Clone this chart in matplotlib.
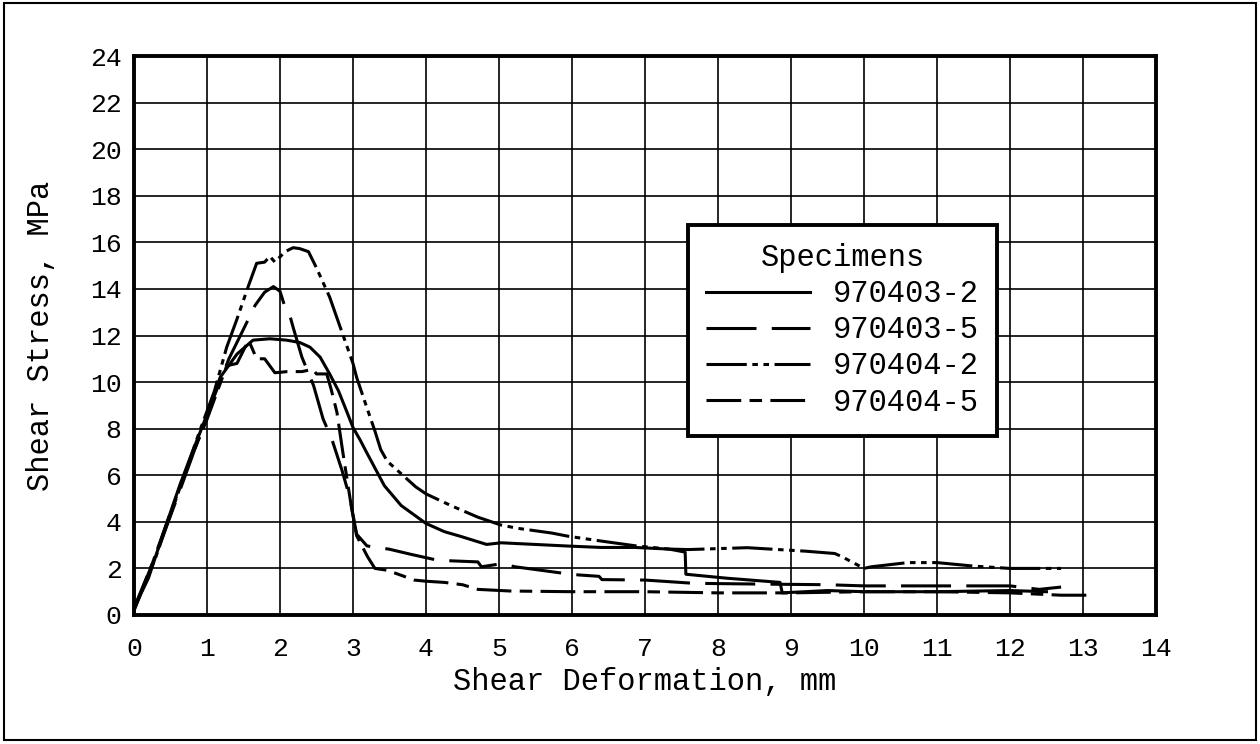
import matplotlib
matplotlib.use("Agg")
import matplotlib.pyplot as plt
from matplotlib.patches import Rectangle

# shear stress vs deformation, four specimens
plt.rcParams["font.family"] = ["Liberation Mono", "DejaVu Sans Mono"]
plt.rcParams["lines.scale_dashes"] = False

x_ticks = list(range(0, 15))
y_ticks = list(range(0, 25, 2))
names = ["970403-2", "970403-5", "970404-2", "970404-5"]

# 970403-2 (solid)
s1_x = [0.0, 0.2, 0.4, 0.63, 0.8, 0.95, 1.18, 1.41, 1.63, 1.86, 2.09, 2.27, 2.41,
        2.55, 2.68, 2.8, 2.91, 3.0, 3.1, 3.2, 3.43, 3.66, 4.0, 4.25, 4.48, 4.83,
        5.03, 5.49, 5.95, 6.4, 6.86, 7.33, 7.55, 7.56, 8.12, 8.85, 8.88, 9.5,
        10.0, 11.0, 12.0, 12.5]
s1_y = [0.3, 1.6, 3.5, 5.6, 7.0, 8.2, 10.2, 11.2, 11.8, 11.86, 11.8, 11.7, 11.5,
        11.07, 10.35, 9.63, 8.77, 8.05, 7.5, 6.9, 5.55, 4.7, 3.93, 3.58, 3.37, 3.03,
        3.1, 3.03, 2.96, 2.9, 2.9, 2.83, 2.7, 1.75, 1.58, 1.4, 0.95, 1.05,
        1.0, 1.0, 1.05, 1.0]

# 970403-5 (long dash)
s2_x = [0.0, 0.3, 0.6, 0.9, 1.1, 1.3, 1.52, 1.66, 1.79, 1.91, 2.0, 2.07, 2.14,
        2.18, 2.3, 2.46, 2.59, 2.71, 2.85, 2.96, 3.0, 3.05, 3.19, 3.3, 3.49, 3.8,
        4.16, 4.39, 4.71, 4.76, 5.03, 5.22, 5.86, 6.09, 6.37, 6.41, 7.0, 7.67,
        8.5, 9.5, 10.0, 11.0, 12.0, 12.4, 12.7]
s2_y = [0.2, 2.6, 5.1, 7.7, 9.4, 11.0, 12.4, 13.3, 13.86, 14.1, 13.9, 13.2, 12.8,
        12.35, 11.07, 9.85, 8.42, 7.55, 6.2, 5.0, 4.3, 3.47, 2.97, 2.9, 2.83, 2.6,
        2.35, 2.32, 2.28, 2.07, 2.2, 2.07, 1.8, 1.72, 1.66, 1.52, 1.5, 1.36,
        1.33, 1.3, 1.25, 1.25, 1.25, 1.1, 1.2]

# 970404-2 (dash dot dot)
s3_x = [0.0, 0.3, 0.6, 0.9, 1.1, 1.27, 1.41, 1.52, 1.57, 1.68, 1.79, 1.86, 1.93,
        2.07, 2.18, 2.27, 2.39, 2.5, 2.68, 2.82, 2.91, 3.0, 3.05, 3.19, 3.3, 3.38,
        3.47, 3.86, 4.0, 4.34, 4.71, 5.03, 5.26, 5.72, 5.95, 6.41, 6.87, 7.33,
        7.6, 8.4, 9.2, 9.6, 9.7, 10.0, 10.1, 10.6, 11.0, 11.5, 12.0, 12.7]
s3_y = [0.2, 2.5, 5.2, 7.9, 9.6, 11.5, 12.7, 13.7, 14.15, 15.1, 15.15, 15.4, 15.15,
        15.6, 15.77, 15.73, 15.6, 14.9, 13.65, 12.4, 11.6, 10.8, 10.2, 8.9, 7.9, 7.1,
        6.6, 5.5, 5.2, 4.7, 4.2, 3.86, 3.72, 3.52, 3.38, 3.17, 2.97, 2.83,
        2.81, 2.89, 2.74, 2.64, 2.5, 2.0, 2.07, 2.25, 2.25, 2.1, 2.0, 2.0]

# 970404-5 (dash dot)
s4_x = [0.0, 0.25, 0.5, 0.75, 1.0, 1.2, 1.27, 1.41, 1.57, 1.68, 1.79, 1.93, 2.1,
        2.3, 2.45, 2.5, 2.64, 2.7, 2.78, 2.86, 2.98, 3.05, 3.2, 3.3, 3.47, 3.84,
        4.0, 4.25, 4.5, 4.71, 5.15, 6.0, 7.0, 8.0, 9.0, 10.0, 11.0, 12.0, 12.7, 13.15]
s4_y = [0.3, 2.2, 4.4, 6.5, 8.4, 10.1, 10.7, 10.8, 11.8, 11.0, 11.0, 10.4, 10.45,
        10.45, 10.55, 10.35, 10.35, 9.7, 8.7, 7.0, 4.6, 3.4, 2.5, 2.0, 1.92, 1.5,
        1.45, 1.4, 1.3, 1.1, 1.03, 1.0, 1.0, 0.95, 0.95, 1.0, 1.0, 0.95, 0.85, 0.85]

series_x = [s1_x, s2_x, s3_x, s4_x]
series_y = [s1_y, s2_y, s3_y, s4_y]
# dash patterns in points
styles = ["-", (0, (36, 11)), (0, (29, 4, 4, 4, 4, 4)), (0, (25, 6, 9, 6))]

fig = plt.figure(figsize=(12.6, 7.44), dpi=100)
ax = fig.add_axes([134 / 1260, 1 - 615 / 744, 1022 / 1260, 559 / 744])

for xs, ys, ls, name in zip(series_x, series_y, styles, names):
    ax.plot(xs, ys, color="black", lw=2.2, linestyle=ls, label=name)

ax.set_xlim(0, 14)
ax.set_ylim(0, 24)
ax.set_xticks(x_ticks)
ax.set_yticks(y_ticks)
ax.tick_params(length=0, labelsize=19)
ax.tick_params(axis="x", pad=16)
ax.tick_params(axis="y", pad=9)
ax.grid(True, color="black", lw=1.2)
ax.set_axisbelow(True)
for sp in ax.spines.values():
    sp.set_linewidth(2.8)

ax.set_xlabel("Shear Deformation, mm", fontsize=22, labelpad=4)
ax.set_ylabel("Shear Stress, MPa", fontsize=22, labelpad=24)

leg = ax.legend(title="Specimens", loc="upper left", bbox_to_anchor=(0.542, 0.698),
                fontsize=22, title_fontsize=22, frameon=True, fancybox=False,
                framealpha=1, edgecolor="black", handlelength=3.4,
                handletextpad=0.75, labelspacing=0.2, borderpad=0.6,
                borderaxespad=0)
leg.get_frame().set_linewidth(2.8)

# outer frame around the whole page
fig.patches.append(Rectangle((0.003, 0.006), 0.994, 0.99, transform=fig.transFigure,
                             fill=False, edgecolor="black", lw=1.5))

fig.savefig("out.png", dpi=100)
